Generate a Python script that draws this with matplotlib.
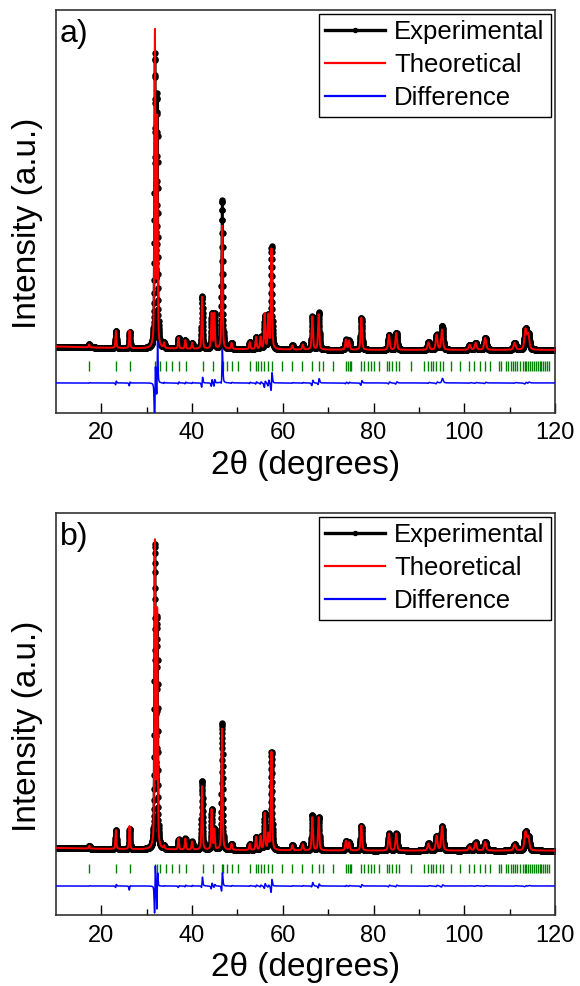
import numpy as np
import matplotlib.pyplot as plt

plt.rcParams["font.family"] = ["Liberation Sans", "DejaVu Sans"]

# 2theta grid of the scan
step = 0.02
two_theta = np.arange(10.0, 120.0 + step / 2, step)

# Reflections (deg), shared by both samples
peak_pos = [17.3, 23.2, 26.2, 31.8, 32.3, 33.8, 37.0, 38.5, 40.0, 42.2,
            44.3, 44.9, 46.6, 48.7, 52.7, 54.1, 55.1, 56.0, 56.8, 57.5,
            62.1, 64.4, 66.5, 67.9, 73.9, 74.6, 77.3, 83.4, 85.0, 92.1,
            93.9, 95.1, 101.2, 102.5, 104.6, 111.1, 113.5, 114.1]
peak_fwhm = [0.25, 0.25, 0.25, 0.25, 0.25, 0.25, 0.27, 0.27, 0.27, 0.28,
             0.28, 0.28, 0.28, 0.30, 0.30, 0.30, 0.30, 0.30, 0.30, 0.30,
             0.32, 0.32, 0.33, 0.33, 0.35, 0.35, 0.36, 0.40, 0.40, 0.45,
             0.45, 0.45, 0.50, 0.50, 0.50, 0.55, 0.55, 0.55]

# sample a) peak heights (a.u.)
calc_a = [30, 170, 175, 3130, 2250, 50, 110, 85, 60, 520,
          350, 350, 1230, 60, 70, 120, 120, 350, 330, 1000,
          40, 50, 330, 350, 100, 90, 320, 150, 170, 75,
          150, 200, 50, 70, 120, 70, 200, 150]
obs_a = [30, 170, 160, 2880, 2470, 50, 110, 85, 60, 530,
         350, 350, 1490, 60, 70, 120, 120, 330, 330, 1020,
         40, 50, 330, 370, 100, 90, 320, 150, 170, 75,
         150, 240, 50, 70, 120, 70, 200, 150]
shift_a = 0.02

# sample b) peak heights (a.u.)
calc_b = [27, 190, 230, 3030, 2330, 30, 110, 110, 80, 635,
          400, 200, 1210, 60, 60, 130, 135, 365, 150, 980,
          50, 60, 330, 330, 95, 80, 250, 170, 170, 70,
          145, 240, 40, 80, 85, 60, 180, 130]
obs_b = [27, 190, 200, 2990, 2250, 30, 100, 110, 80, 690,
         400, 200, 1270, 60, 60, 130, 135, 365, 150, 980,
         50, 60, 350, 330, 95, 80, 250, 170, 170, 70,
         145, 240, 40, 80, 85, 60, 180, 130]
shift_b = 0.015

# background anchors
bg_x = [10, 20, 30, 40, 60, 80, 120]
bg_a = [34, 22, 14, 10, 4, 0, 0]
bg_b = [27, 18, 12, 8, 3, 0, 0]

# Bragg positions (green ticks)
bragg = [17.3, 23.2, 26.3, 31.8, 32.3, 32.9, 34.2, 35.5, 37.1, 38.6,
         42.3, 44.5, 46.5, 46.9, 47.6, 48.7, 50.1, 52.7, 54.1, 54.6,
         55.1, 55.8, 56.8, 57.6, 59.9, 62.1, 64.3, 66.5, 67.9, 68.8,
         71.0, 74.0, 74.4, 74.7, 75.1, 77.3, 78.0, 78.8, 79.5, 80.2,
         81.3, 82.9, 83.5, 84.1, 85.0, 85.7, 88.2, 91.1, 92.0, 92.6,
         93.1, 93.8, 94.6, 95.3, 97.1, 99.0, 101.0, 102.1, 103.4, 104.5,
         105.6, 107.6, 108.2, 109.3, 109.7, 110.2, 110.7, 111.2, 111.7, 112.2,
         112.9, 113.3, 113.7, 114.1, 114.5, 114.9, 115.3, 115.8, 116.2, 116.6,
         117.0, 117.4, 117.8, 118.2, 118.6]


def profile(x, pos, height, fwhm, bg_y, shift=0.0):
    y = np.interp(x, bg_x, bg_y).astype(float)
    for p, h, w in zip(pos, height, fwhm):
        u = (x - p - shift) / w
        y += h * (0.5 * np.exp(-4 * np.log(2) * u ** 2) + 0.5 / (1 + 4 * u ** 2))
    return y


def draw_panel(ax, letter, calc, obs, bg_y, shift, ylim, tick_lo, tick_hi, diff_off):
    y_calc = profile(two_theta, peak_pos, calc, peak_fwhm, bg_y)
    y_obs = profile(two_theta, peak_pos, obs, peak_fwhm, bg_y, shift)

    ax.plot(two_theta, y_obs, color="black", lw=1.8, marker="o", ms=3.6,
            mec="black", mfc="black", label="Experimental", zorder=2)
    ax.plot(two_theta, y_calc, color="red", lw=1.4, label="Theoretical", zorder=3)
    ax.plot(two_theta, y_obs - y_calc + diff_off, color="blue", lw=1.1,
            label="Difference", zorder=3)
    ax.vlines(bragg, tick_lo, tick_hi, color="green", lw=1.0)

    ax.set_xlim(10, 120)
    ax.set_ylim(*ylim)
    ax.set_xticks([20, 40, 60, 80, 100, 120])
    ax.set_xticks([30, 50, 70, 90, 110], minor=True)
    ax.tick_params(axis="x", which="major", direction="in", length=7, width=1.0,
                   labelsize=17, pad=7, top=False)
    ax.tick_params(axis="x", which="minor", direction="in", length=4, width=1.0, top=False)
    ax.tick_params(axis="y", left=False, labelleft=False, right=False)
    for s in ax.spines.values():
        s.set_linewidth(1.2)
        s.set_color("#333333")

    ax.set_xlabel("2θ (degrees)", fontsize=24, labelpad=4)
    ax.set_ylabel("Intensity (a.u.)", fontsize=24)
    ax.yaxis.set_label_coords(-0.027, 0.47)
    ax.text(0.008, 0.978, letter, transform=ax.transAxes, fontsize=23,
            ha="left", va="top")

    leg = ax.legend(loc="upper right", fontsize=18.5, frameon=True, fancybox=False,
                    edgecolor="black", framealpha=1, borderaxespad=0.15,
                    borderpad=0.25, labelspacing=0.35, handlelength=2.35,
                    handletextpad=0.35, numpoints=1, markerscale=0.8)
    leg.get_frame().set_linewidth(1.0)
    widths = [2.4, 1.6, 1.6]
    for line, lw in zip(leg.get_lines(), widths):
        line.set_linewidth(lw)


def main() -> None:
    fig = plt.figure(figsize=(5.8, 9.86), dpi=100)
    ax_a = fig.add_axes([0.0966, 0.5815, 0.8603, 0.4085])
    ax_b = fig.add_axes([0.0966, 0.0720, 0.8603, 0.4075])

    draw_panel(ax_a, "a)", calc_a, obs_a, bg_a, shift_a,
               (-627, 3400), -210, -110, -330)
    draw_panel(ax_b, "b)", calc_b, obs_b, bg_b, shift_b,
               (-643, 3370), -223, -133, -353)

    fig.savefig("out.png", dpi=100)


if __name__ == "__main__":
    main()
